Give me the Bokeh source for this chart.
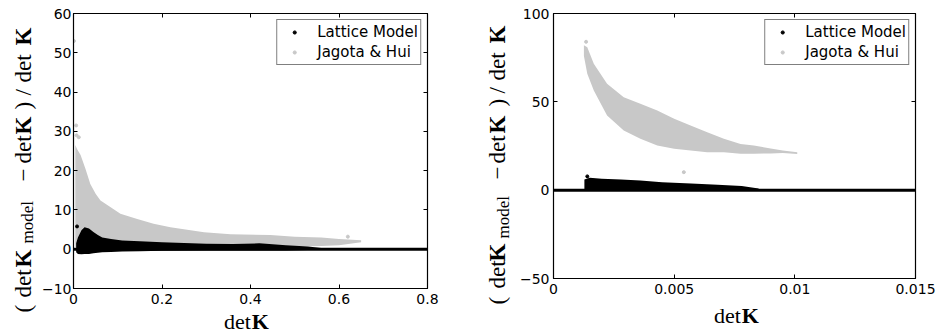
import math
from bokeh.plotting import figure
from bokeh.models import Range1d, FixedTicker, LinearAxis, Span, Label, Legend, LegendItem
from bokeh.layouts import row, column
from bokeh.embed import file_html
from bokeh.resources import INLINE

# ---------------- data ----------------
# Left panel: detK in [0, 0.8]
L_jh_x   = [0.004, 0.008, 0.016, 0.027, 0.038, 0.050, 0.061, 0.084, 0.106, 0.144, 0.181, 0.219, 0.295, 0.355, 0.445, 0.50, 0.56, 0.60, 0.65]
L_jh_top = [26.5, 25.5, 24.0, 20.5, 16.6, 14.1, 12.4, 10.7, 9.0, 7.7, 6.5, 5.6, 4.3, 3.8, 3.6, 3.2, 3.0, 2.6, 2.3]
L_jh_bot = [0.5, 0.5, 0.5, 0.5, 0.5, 0.5, 0.5, 0.5, 0.5, 0.5, 0.5, 0.5, 0.5, 0.5, 0.5, 0.6, 0.8, 1.0, 1.8]
L_jh_pts_x = [0.001, 0.006, 0.007, 0.012, 0.62]
L_jh_pts_y = [53.0, 31.5, 29.0, 28.5, 3.2]

L_lat_x   = [0.006, 0.010, 0.018, 0.025, 0.035, 0.045, 0.055, 0.065, 0.085, 0.11, 0.15, 0.20, 0.30, 0.36, 0.42, 0.48, 0.53, 0.56]
L_lat_top = [1.5, 3.0, 4.8, 5.6, 5.3, 4.4, 3.6, 3.0, 2.6, 2.2, 2.0, 1.8, 1.4, 1.3, 1.5, 1.0, 0.7, 0.3]
L_lat_bot = [-0.8, -1.2, -1.3, -1.2, -1.2, -1.0, -0.9, -0.8, -0.7, -0.6, -0.5, -0.4, -0.3, -0.3, -0.3, -0.3, -0.2, 0.0]
L_lat_pts_x = [0.008]
L_lat_pts_y = [5.8]

# Right panel: detK in [0, 0.015]
R_jh_x   = [0.00126, 0.0014, 0.00167, 0.00222, 0.00291, 0.0036, 0.0043, 0.005, 0.00568, 0.00637, 0.00706, 0.00775, 0.0083, 0.009, 0.0095, 0.0101]
R_jh_top = [82.0, 80.9, 71.5, 60.2, 52.6, 48.9, 45.1, 40.4, 36.6, 32.8, 29.1, 26.2, 25.3, 23.6, 22.5, 21.5]
R_jh_bot = [76.0, 65.9, 56.4, 42.3, 33.8, 29.1, 25.3, 23.4, 22.5, 21.5, 21.5, 20.6, 20.6, 20.8, 21.0, 20.5]
R_jh_pts_x = [0.00135, 0.0054]
R_jh_pts_y = [84.0, 10.2]

R_lat_x   = [0.00128, 0.0015, 0.002, 0.0028, 0.0036, 0.0045, 0.0057, 0.0068, 0.0078, 0.0085]
R_lat_top = [6.0, 7.0, 6.5, 6.0, 5.5, 4.5, 3.8, 3.0, 2.4, 1.0]
R_lat_bot = [-0.5, -0.5, -0.5, -0.5, -0.5, -0.5, -0.5, -0.5, -0.5, -0.5]
R_lat_pts_x = [0.0014]
R_lat_pts_y = [7.8]

L_xticks = [0, 0.2, 0.4, 0.6, 0.8]
L_yticks = [-10, 0, 10, 20, 30, 40, 50, 60]
R_xticks = [0, 0.005, 0.01, 0.015]
R_yticks = [-50, 0, 50, 100]
series_names = ["Lattice Model", "Jagota & Hui"]

# ---------------- styling ----------------
GRAY = "#c8c8c8"
TICK_FONT = "DejaVu Sans"
SERIF = "Liberation Serif"
H = 332  # page height
MID = 0.34  # distance from baseline to the middle of a text box, in em


def fmt(t):
    return ("%g" % t).replace("-", "\u2212")


def make_panel(width, height, xr, yr, borders, xticks, yticks, standoff_y):
    bl, br, bt, bb = borders
    p = figure(width=width, height=height, x_range=Range1d(*xr), y_range=Range1d(*yr),
               title=None, output_backend="svg", toolbar_location=None,
               min_border_left=bl, min_border_right=br, min_border_top=bt, min_border_bottom=bb)
    p.grid.visible = False
    p.outline_line_color = "black"
    p.outline_line_width = 1
    p.background_fill_color = "white"
    p.border_fill_color = "white"
    for ax, ticks, so in ((p.xaxis[0], xticks, 5), (p.yaxis[0], yticks, standoff_y)):
        ax.ticker = FixedTicker(ticks=ticks)
        ax.major_label_overrides = {t: fmt(t) for t in ticks}
        ax.major_tick_in = 4
        ax.major_tick_out = 0
        ax.minor_tick_line_color = None
        ax.axis_line_color = "black"
        ax.axis_line_width = 1.2
        ax.major_tick_line_color = "black"
        ax.major_label_text_font = TICK_FONT
        ax.major_label_text_font_size = "14px"
        ax.major_label_text_color = "black"
        ax.major_label_standoff = so
    top = LinearAxis(ticker=FixedTicker(ticks=xticks), major_label_overrides={t: "" for t in xticks},
                     major_tick_in=4, major_tick_out=0, minor_tick_line_color=None,
                     axis_line_color="black", axis_line_width=1.2, major_label_standoff=0)
    right = LinearAxis(ticker=FixedTicker(ticks=yticks), major_label_overrides={t: "" for t in yticks},
                       major_tick_in=4, major_tick_out=0, minor_tick_line_color=None,
                       axis_line_color="black", axis_line_width=1.2, major_label_standoff=0)
    p.add_layout(top, "above")
    p.add_layout(right, "right")
    return p


def add_series(p, jx, jt, jb, jpx, jpy, lx, lt, lb, lpx, lpy):
    p.varea(x=jx, y1=jb, y2=jt, fill_color=GRAY, fill_alpha=1.0)
    rj = p.scatter(x=jpx, y=jpy, size=3, marker="circle", fill_color=GRAY, line_color=GRAY)
    p.varea(x=lx, y1=lb, y2=lt, fill_color="black", fill_alpha=1.0)
    rl = p.scatter(x=lpx, y=lpy, size=3, marker="circle", fill_color="black", line_color="black")
    p.add_layout(Span(location=0, dimension="width", line_color="black", line_width=3))
    legend = Legend(items=[LegendItem(label=series_names[0], renderers=[rl]),
                           LegendItem(label=series_names[1], renderers=[rj])],
                    location="top_right", margin=6, padding=2, spacing=0,
                    label_height=20, glyph_height=8, glyph_width=30, label_standoff=8,
                    label_text_font=TICK_FONT, label_text_font_size="15px", label_text_color="black",
                    border_line_color="black", border_line_width=1,
                    background_fill_color="white", background_fill_alpha=1.0)
    p.add_layout(legend)


def text_fig(width, height, gx0, gx1):
    # a blank figure whose data units are page pixels: x = page x, y = 332 - page y
    f = figure(width=width, height=height, x_range=Range1d(gx0, gx1), y_range=Range1d(0, height),
               title=None, output_backend="svg", toolbar_location=None,
               x_axis_location=None, y_axis_location=None,
               min_border_left=0, min_border_right=0, min_border_top=0, min_border_bottom=0)
    f.grid.visible = False
    f.outline_line_color = None
    f.background_fill_color = "white"
    f.border_fill_color = "white"
    return f


def add_xlabel(f, split_x, py, size=22):
    # "det" ends where the bold "K" begins
    cy = H - (py - MID * size)
    f.add_layout(Label(x=split_x, y=cy, text="det", text_font=SERIF, text_font_size=f"{size}px",
                       text_color="black", text_align="right", text_baseline="middle"))
    f.add_layout(Label(x=split_x + 1, y=cy, text="K", text_font=SERIF, text_font_size=f"{size}px",
                       text_font_style="bold", text_color="black",
                       text_align="left", text_baseline="middle"))


def add_ylabel(f, pieces, main_base, sub_base, main_size=23, sub_size=17):
    # pieces: (text, page y where the piece starts, kind); the text reads upwards
    for txt, py, kind in pieces:
        size = sub_size if kind == "sub" else main_size
        base = sub_base if kind == "sub" else main_base
        f.add_layout(Label(x=base - MID * size, y=H - py, text=txt, text_font=SERIF,
                           text_font_size=f"{size}px",
                           text_font_style="bold" if kind == "bold" else "normal",
                           text_color="black", angle=math.pi / 2,
                           text_align="left", text_baseline="middle"))


# ---------------- left panel ----------------
p1 = make_panel(433, 312, (0, 0.8), (-10, 60), (36, 43, 13, 24), L_xticks, L_yticks, 2)
add_series(p1, L_jh_x, L_jh_top, L_jh_bot, L_jh_pts_x, L_jh_pts_y,
           L_lat_x, L_lat_top, L_lat_bot, L_lat_pts_x, L_lat_pts_y)
ylab1 = text_fig(37, 332, 0, 37)
xlab1 = text_fig(433, 20, 37, 470)
L_pieces = [("(", 312, "n"), ("det", 297, "n"), ("K", 267, "bold"), ("model", 243, "sub"),
            ("\u2212", 181, "n"), ("det", 163, "n"), ("K", 134, "bold"), (")", 109, "n"),
            ("/", 95, "n"), ("det", 82, "n"), ("K", 45, "bold")]
add_ylabel(ylab1, L_pieces, 31, 33)
add_xlabel(xlab1, 254, 328)

# ---------------- right panel ----------------
p2 = make_panel(427, 302, (0, 0.015), (-50, 100), (38, 27, 13, 24), R_xticks, R_yticks, 4)
add_series(p2, R_jh_x, R_jh_top, R_jh_bot, R_jh_pts_x, R_jh_pts_y,
           R_lat_x, R_lat_top, R_lat_bot, R_lat_pts_x, R_lat_pts_y)
ylab2 = text_fig(45, 332, 470, 515)
xlab2 = text_fig(427, 30, 515, 942)
R_pieces = [("(", 304, "n"), ("det", 288, "n"), ("K", 261, "bold"), ("model", 238, "sub"),
            ("\u2212", 179, "n"), ("det", 163, "n"), ("K", 133, "bold"), (")", 106, "n"),
            ("/", 93, "n"), ("det", 80, "n"), ("K", 43, "bold")]
add_ylabel(ylab2, R_pieces, 505, 509)
add_xlabel(xlab2, 736, 322)

layout = row(ylab1, column(p1, xlab1), ylab2, column(p2, xlab2))
open("out.html", "w").write(file_html(layout, INLINE))
